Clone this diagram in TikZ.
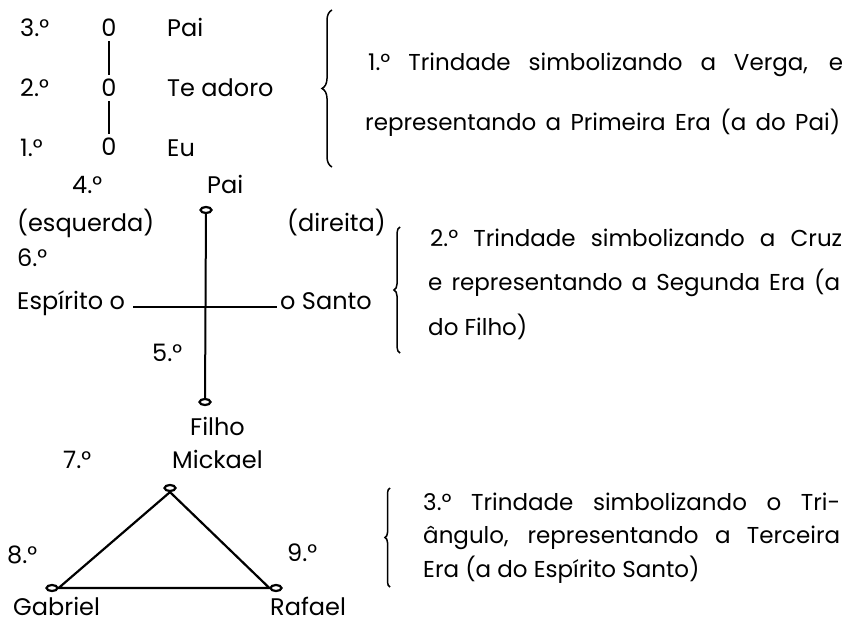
\documentclass[tikz,border=0pt]{standalone}
\usepackage{fontspec}
\setmainfont{Poppins}
\usetikzlibrary{shapes.geometric,decorations.pathreplacing}
\begin{document}
\begin{tikzpicture}[x=1pt,y=-1pt,
  lbl/.style={font=\fontsize{24}{28}\selectfont, inner sep=0pt, anchor=base west},
  body/.style={font=\fontsize{23}{27}\selectfont, inner sep=0pt, anchor=base west},
  zero/.style={font=\fontsize{24}{28}\selectfont, inner sep=4pt, anchor=center},
  bead/.style={draw, ellipse, line width=2.2pt, minimum width=11pt, minimum height=6pt, inner sep=0pt},
  conn/.style={line width=2pt},
  bracedeco/.style={decorate, decoration={brace, amplitude=#1}, line width=1.5pt}]
\useasboundingbox (0,0) rectangle (848,623);
% First trinity
\node[lbl] (n3) at (20,37) {3.°};
\node[zero] (z3) at (109,28) {0};
\node[lbl] (pai1) at (167,37) {Pai};
\node[lbl] (n2) at (20,97) {2.°};
\node[zero] (z2) at (109,88) {0};
\node[lbl] (tea) at (167,97) {Te adoro};
\node[lbl] (n1) at (20,156) {1.°};
\node[zero] (z1) at (109,147) {0};
\node[lbl] (eu) at (167,156) {Eu};
\draw[conn] (z3) -- (z2);
\draw[conn] (z2) -- (z1);
\coordinate (b1a) at (332,167);
\coordinate (b1b) at (332,10);
\draw[bracedeco=10pt] (b1a) -- (b1b);
\node[body] (t1a) at (368,71) {\makebox[475pt][s]{1.º Trindade simbolizando a Verga, e}};
\node[body] (t1b) at (365,131) {\makebox[475pt][s]{representando a Primeira Era (a do Pai)}};
% Cross
\node[lbl] (n4) at (72,193) {4.°};
\node[lbl] (pai2) at (207,193) {Pai};
\node[bead] (e4) at (206,210) {};
\node[lbl] (esq) at (17,231) {(esquerda)};
\node[lbl] (dir) at (287,231) {(direita)};
\node[lbl] (n6) at (17,266) {6.°};
\node[lbl] (esp) at (17,309) {Espírito o};
\node[lbl] (san) at (280,309) {o Santo};
\node[lbl] (n5) at (152,361) {5.°};
\node[bead] (e5) at (205,402) {};
\node[lbl] (fil) at (190,435) {Filho};
\draw[conn] (e4) -- (e5);
\coordinate (hl) at (133,307);
\coordinate (hr) at (277,307);
\draw[conn] (hl) -- (hr);
\coordinate (b2a) at (400,353);
\coordinate (b2b) at (400,227);
\draw[bracedeco=6pt] (b2a) -- (b2b);
\node[body] (t2a) at (430,246) {\makebox[412pt][s]{2.º Trindade simbolizando a Cruz}};
\node[body] (t2b) at (428,290) {\makebox[412pt][s]{e representando a Segunda Era (a}};
\node[body] (t2c) at (428,335) {do Filho)};
% Triangle
\node[lbl] (n7) at (63,468) {7.°};
\node[lbl] (mic) at (172,468) {Mickael};
\node[bead] (tm) at (170,488) {};
\node[lbl] (n8) at (7,563) {8.°};
\node[lbl] (n9) at (287,561) {9.°};
\node[bead] (tl) at (52,588) {};
\node[bead] (tr) at (276,588) {};
\node[lbl] (gab) at (13,615) {Gabriel};
\node[lbl] (raf) at (270,615) {Rafael};
\draw[line width=2.2pt, line join=miter] (tm.south) -- (tl.east) -- (tr.west) -- cycle;
\coordinate (b3a) at (390,587);
\coordinate (b3b) at (390,488);
\draw[bracedeco=5pt] (b3a) -- (b3b);
\node[body] (t3a) at (423,510) {\makebox[417pt][s]{3.º Trindade simbolizando o Tri-}};
\node[body] (t3b) at (423,543) {\makebox[417pt][s]{ângulo, representando a Terceira}};
\node[body] (t3c) at (423,577) {Era (a do Espírito Santo)};
\end{tikzpicture}
\end{document}
